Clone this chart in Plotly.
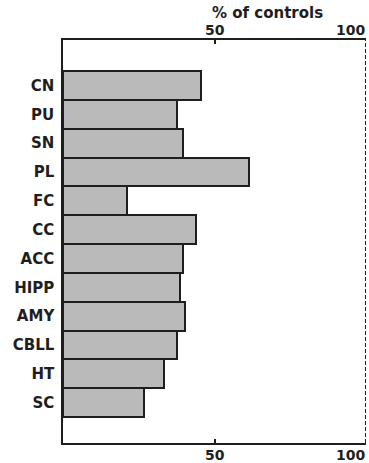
import plotly.graph_objects as go

regions = ["CN", "PU", "SN", "PL", "FC", "CC", "ACC", "HIPP", "AMY", "CBLL", "HT", "SC"]
pct_of_controls = [45.5, 37.5, 39.5, 61.5, 21.0, 43.8, 39.7, 38.7, 40.3, 37.6, 33.4, 26.7]
tick_values = [50, 100]
tick_labels = ["50", "100"]

ink = "#1e1e1e"
font_family = "DejaVu Sans"
positions = list(range(len(regions)))

fig = go.Figure()
fig.add_trace(go.Bar(
    x=pct_of_controls,
    y=positions,
    orientation="h",
    marker=dict(color="#bababa", line=dict(color=ink, width=2)),
    width=1.0,
    hoverinfo="skip",
))

fig.update_layout(
    width=369,
    height=463,
    margin=dict(l=63, r=3, t=40, b=20),
    paper_bgcolor="white",
    plot_bgcolor="white",
    showlegend=False,
    bargap=0,
    font=dict(family=font_family, size=14, color=ink),
    xaxis=dict(
        range=[0, 100],
        showgrid=False,
        zeroline=False,
        showline=True,
        linecolor=ink,
        linewidth=1.5,
        mirror="ticks",
        ticks="inside",
        ticklen=4,
        tickwidth=1.5,
        tickcolor=ink,
        tickvals=[50],
        showticklabels=False,
    ),
    yaxis=dict(
        range=[12.4, -1.575],
        showgrid=False,
        zeroline=False,
        showline=True,
        linecolor=ink,
        linewidth=1.5,
        ticks="",
        tickvals=positions,
        ticktext=regions,
        ticklabelstandoff=4,
        tickfont=dict(family=font_family, size=15, color=ink, weight="bold"),
    ),
)

# dashed reference line at 100 % of controls
fig.add_shape(type="line", xref="x", yref="paper", x0=100, x1=100, y0=0, y1=1,
              line=dict(color=ink, width=2, dash="4px,2px"))

# tick labels along the top and bottom axes
for v, t in zip(tick_values, tick_labels):
    anchor = "right" if v == 100 else "center"
    for yshift in (10, -12):
        fig.add_annotation(x=v, y=1 if yshift > 0 else 0, xref="x", yref="paper",
                           text=t, showarrow=False, xanchor=anchor, yanchor="middle",
                           yshift=yshift, xshift=1 if v == 100 else 0,
                           font=dict(family=font_family, size=14, color=ink, weight="bold"))

fig.add_annotation(x=67.5, y=1, xref="x", yref="paper", text="% of controls",
                   showarrow=False, xanchor="center", yanchor="middle", yshift=27,
                   font=dict(family=font_family, size=15, color=ink, weight="bold"))

fig.write_html("out.html")
